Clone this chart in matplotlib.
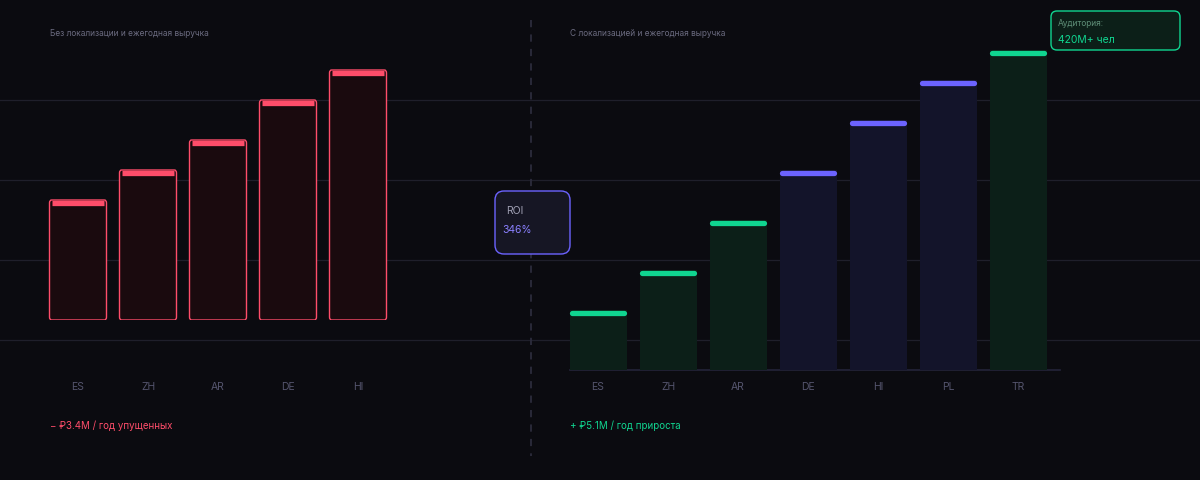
import matplotlib.pyplot as plt
from matplotlib.patches import FancyBboxPatch

plt.rcParams['font.family'] = ['Inter', 'DejaVu Sans']

# data
left_langs = ['ES', 'ZH', 'AR', 'DE', 'HI']
left_values = [12, 15, 18, 22, 25]
right_langs = ['ES', 'ZH', 'AR', 'DE', 'HI', 'PL', 'TR']
right_values = [6, 10, 15, 20, 25, 29, 32]
right_groups = ['g', 'g', 'g', 'p', 'p', 'p', 'g']

left_title = 'Без локализации и ежегодная выручка'
right_title = 'С локализацией и ежегодная выручка'
left_note = '− ₽3.4M / год упущенных'
right_note = '+ ₽5.1M / год прироста'
roi_label = 'ROI'
roi_value = '346%'
badge_label = 'Аудитория:'
badge_value = '420M+ чел'

BG = '#0b0b10'
GRID = '#1f1f2b'
TICK = '#55556e'
RED = '#ff4d6a'
RED_FILL = '#1a0a0e'
GREEN = '#10d690'
GREEN_FILL = '#0c1f18'
PURPLE = '#6c63ff'
PURPLE_FILL = '#13142a'

W, H = 1200, 480
fig = plt.figure(figsize=(12, 4.8), dpi=100, facecolor=BG)


def frac(x0, y0, x1, y1):
    # pixel box (top-left origin) -> figure fraction rect
    return [x0 / W, 1 - y1 / H, (x1 - x0) / W, (y1 - y0) / H]


# background layer in pixel coords
bg = fig.add_axes([0, 0, 1, 1], zorder=0)
bg.set_xlim(0, W)
bg.set_ylim(H, 0)
bg.axis('off')
for y in [100, 180, 260, 340]:
    bg.plot([0, W], [y, y], color=GRID, lw=0.9)
bg.plot([531, 531], [20, 456], color='#2c2c3c', lw=1.3, ls=(0, (4, 4)))
bg.plot([570, 1060], [370, 370], color='#24243a', lw=1.2)

bw = 57 / 70

# left panel
axl = fig.add_axes(frac(43, 20, 393, 320), zorder=2)
axl.set_xlim(-0.5, 4.5)
axl.set_ylim(0, 30)
axl.patch.set_alpha(0)
xs = range(len(left_langs))
for x, v in zip(xs, left_values):
    axl.add_patch(FancyBboxPatch((x - bw / 2, 0), bw, v,
                                 boxstyle='round,pad=0,rounding_size=0.03',
                                 mutation_aspect=10,
                                 fc=RED_FILL, ec=RED, lw=1.0))
    axl.hlines(v - 0.28, x - bw / 2 + 0.04, x + bw / 2 - 0.04, color=RED, lw=3.8, capstyle='butt')
axl.set_xticks(list(xs), left_langs)
axl.set_yticks([])
axl.tick_params(axis='x', length=0, pad=45, labelsize=7.5, labelcolor=TICK)
for s in axl.spines.values():
    s.set_visible(False)

# right panel
axr = fig.add_axes(frac(563, 20, 1053, 370), zorder=2)
axr.set_xlim(-0.5, 6.5)
axr.set_ylim(0, 35)
axr.patch.set_alpha(0)
xs = range(len(right_langs))
for x, v, g in zip(xs, right_values, right_groups):
    fc, cc = (GREEN_FILL, GREEN) if g == 'g' else (PURPLE_FILL, PURPLE)
    axr.bar(x, v, width=bw, color=fc, lw=0)
    axr.hlines(v - 0.26, x - bw / 2 + 0.036, x + bw / 2 - 0.036, color=cc, lw=3.8, capstyle='round')
axr.set_xticks(list(xs), right_langs)
axr.set_yticks([])
axr.tick_params(axis='x', length=0, pad=9, labelsize=7.5, labelcolor=TICK)
for s in axr.spines.values():
    s.set_visible(False)

# titles and notes
bg.text(50, 34, left_title, fontsize=6, color='#6b6b80', va='center')
bg.text(570, 34, right_title, fontsize=6, color='#6b6b80', va='center')
bg.text(50, 426, left_note, fontsize=7, color=RED, va='center')
bg.text(570, 426, right_note, fontsize=7, color=GREEN, va='center')

# ROI box
bg.add_patch(FancyBboxPatch((495, 191), 75, 63, boxstyle='round,pad=0,rounding_size=9',
                            fc='#161624', ec=PURPLE, lw=1.0, zorder=3))
bg.text(506, 211, roi_label, fontsize=7.5, color='#a0a0b4', va='center', zorder=4)
bg.text(502, 230, roi_value, fontsize=7.5, color='#8a80ff', va='center', zorder=4)

# badge
bg.add_patch(FancyBboxPatch((1051, 11), 129, 39, boxstyle='round,pad=0,rounding_size=6',
                            fc=GREEN_FILL, ec=GREEN, lw=1.0, zorder=3))
bg.text(1058, 23, badge_label, fontsize=6, color='#5f8f78', va='center', zorder=4)
bg.text(1058, 40, badge_value, fontsize=7.5, color=GREEN, va='center', zorder=4)

fig.savefig('out.png', dpi=100, facecolor=BG)
